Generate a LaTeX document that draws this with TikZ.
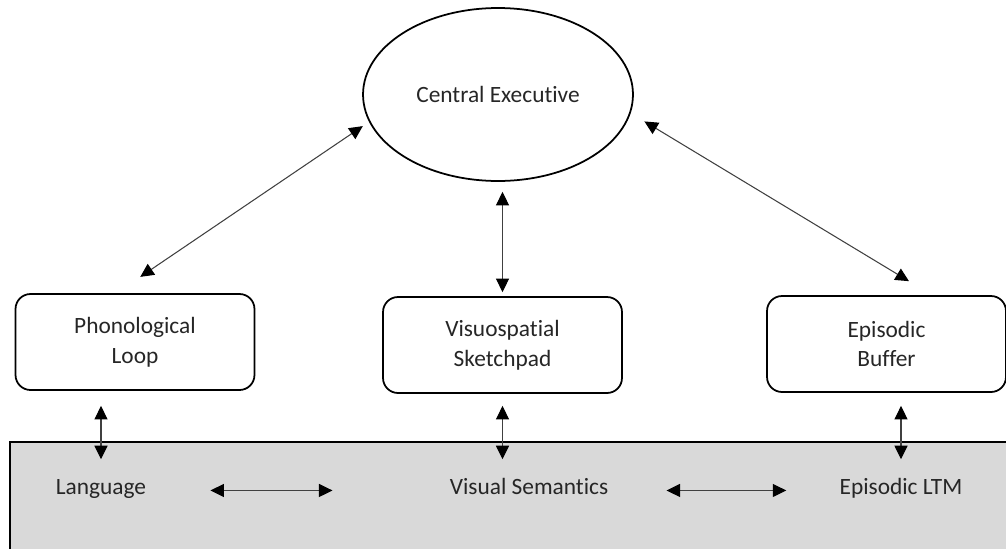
\documentclass[tikz,border=0pt]{standalone}
\usepackage{fontspec}
\setmainfont{Carlito}[Ligatures=NoCommon]
\usetikzlibrary{arrows.meta,shapes.geometric}
\definecolor{ltmgray}{HTML}{D9D9D9}
\definecolor{linegray}{HTML}{404040}
\tikzset{
  txt/.style={font=\fontsize{13.3}{17}\selectfont, text=black!85},
  store/.style={txt, draw, line width=1pt, rounded corners=0.3cm,
    minimum width=4.78cm, minimum height=1.92cm, align=center},
  lab/.style={txt, inner sep=0pt, text height=10pt, text depth=3pt},
  biarrow/.style={draw=linegray, line width=0.6pt,
    >={Triangle[length=0.27cm,width=0.26cm,color=black]}, <->}
}

\begin{document}
\begin{tikzpicture}[x=0.02cm,y=-0.02cm]
  \useasboundingbox (0,0) rectangle (1006,548);
  \clip (0,0) rectangle (1006,548);
  % long-term memory band
  \draw[fill=ltmgray,line width=0.9pt] (10,442) rectangle (1020,560);

  \node[ellipse,draw,line width=1pt,minimum width=5.4cm,minimum height=3.46cm,txt]
    (ce) at (498,94.5) {Central Executive};
  \node[store] (pl) at (135,342) {Phonological\\Loop};
  \node[store] (vs) at (502.5,345) {Visuospatial\\Sketchpad};
  \node[store] (eb) at (886.5,344) {Episodic\\Buffer};

  \node[lab] (lang) at (101,488.5) {Language};
  \node[lab] (vsem) at (529,488.5) {Visual Semantics};
  \node[lab] (eltm) at (901,488.5) {Episodic LTM};

  % executive links
  \draw[biarrow,shorten <=0.58cm,shorten >=0.15cm] (pl.111.6) -- (ce.192.5);
  \draw[biarrow,shorten <=0.2cm,shorten >=0.08cm] (vs.north |- ce.south) -- (vs.north);
  \draw[biarrow,shorten <=0.32cm,shorten >=0.54cm] (ce.352.6) -- (eb.47.3);

  % down to LTM
  \draw[biarrow,shorten <=0.3cm,shorten >=0.35cm] (pl.south -| lang) -- (lang);
  \draw[biarrow,shorten <=0.24cm,shorten >=0.35cm] (vs.south) -- (vs.south |- vsem.north);
  \draw[biarrow,shorten <=0.26cm,shorten >=0.35cm] (eb.south -| eltm) -- (eltm);

  \draw[biarrow,shorten <=1.28cm,shorten >=2.34cm] (lang.mid east) -- (vsem.mid west);
  \draw[biarrow,shorten <=1.16cm,shorten >=1.06cm] (vsem.mid east) -- (eltm.mid west);
\end{tikzpicture}
\end{document}
